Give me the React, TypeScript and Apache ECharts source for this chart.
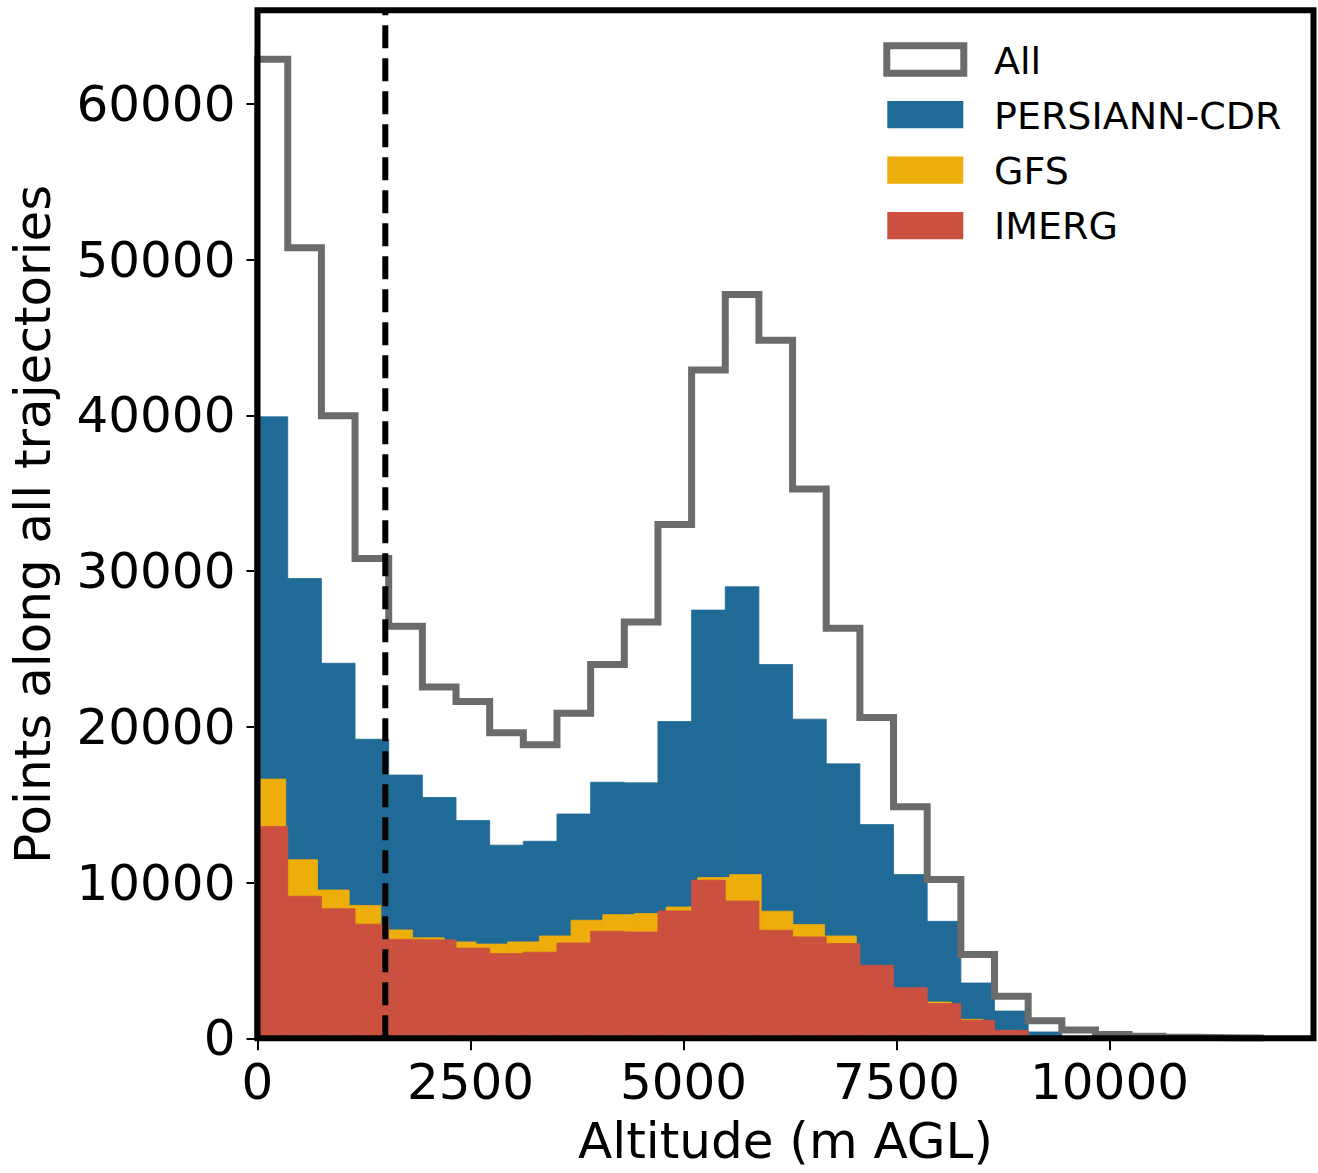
import React, { useEffect, useRef } from 'react';
import * as echarts from 'echarts';

// Histogram binning (m AGL)
const BIN_START = -40;
const BIN_WIDTH = 395;
const GFS_BIN_WIDTH = 372;
const THRESHOLD_ALT = 1500;

const allCounts = [62860, 50750, 39970, 30800, 26450, 22550, 21620, 19620, 18850, 20870, 24000, 26720, 32990, 42900, 47760, 44810, 35260, 26330, 20600, 14860, 10190, 5380, 2700, 1130, 540, 250, 130, 60, 30, 15];
const persiannCounts = [39900, 29520, 24080, 19200, 16900, 15460, 13980, 12400, 12650, 14400, 16440, 16400, 20340, 27490, 28990, 24000, 20490, 17620, 13720, 10510, 7510, 3550, 1750, 410, 90, 30, 10, 5, 0, 0];
const gfsCounts = [16640, 11470, 9520, 8530, 6960, 6450, 6190, 6050, 6190, 6570, 7580, 7940, 8010, 8430, 10320, 10510, 8160, 7300, 6570, 4600, 3100, 2330, 1220, 480, 80, 30, 15, 8, 4, 0];
const imergCounts = [13600, 9120, 8320, 7330, 6350, 6320, 5790, 5440, 5530, 6120, 6870, 6830, 8180, 10150, 8820, 6940, 6510, 6080, 4690, 3250, 2230, 1160, 510, 90, 30, 10, 5, 0, 0, 0];

const xTicks = [0, 2500, 5000, 7500, 10000];
const yTicks = [0, 10000, 20000, 30000, 40000, 50000, 60000];
const legendLabels = ['All', 'PERSIANN-CDR', 'GFS', 'IMERG'];

const X_MAX = 12394;
const Y_MAX = 66000;

const GRAY = '#6b6b6b';
const BLUE = '#1f6a96';
const YELLOW = '#edad0a';
const RED = '#cb5040';
const FONT = 'DejaVu Sans';
const FS = 50;

function toBins(counts: number[], width: number) {
  return counts.map((c, i) => [BIN_START + i * width, BIN_START + (i + 1) * width, c]);
}

function toStep(counts: number[], width: number) {
  const pts: number[][] = [[BIN_START, 0]];
  counts.forEach((c, i) => pts.push([BIN_START + i * width, c]));
  pts.push([BIN_START + counts.length * width, 0]);
  return pts;
}

function barSeries(name: string, counts: number[], width: number, color: string, z: number) {
  return {
    type: 'custom',
    name,
    xAxisIndex: 0,
    yAxisIndex: 0,
    z,
    silent: true,
    encode: { x: [0, 1], y: 2 },
    data: toBins(counts, width),
    renderItem: (params: any, api: any) => {
      const x0 = api.value(0);
      const x1 = api.value(1);
      const v = api.value(2);
      if (!(v > 0)) return null;
      const pTop = api.coord([x0, v]);
      const pBot = api.coord([x1, 0]);
      const cs = params.coordSys;
      const left = Math.max(pTop[0], cs.x);
      const right = Math.min(pBot[0], cs.x + cs.width);
      if (right <= left) return null;
      return {
        type: 'rect',
        shape: { x: left, y: pTop[1], width: right - left, height: pBot[1] - pTop[1] },
        style: { fill: color, stroke: color, lineWidth: 0.8 },
      };
    },
  };
}

export default function App() {
  const ref = useRef<HTMLDivElement>(null);

  useEffect(() => {
    if (!ref.current) return;
    const chart = echarts.init(ref.current, null, { renderer: 'svg' });

    const gridLeft = 257.5;
    const gridTop = 10.3;
    const gridWidth = 1056;
    const gridHeight = 1028;

    const legendColors = [null, BLUE, YELLOW, RED];
    const legendY = [45.8, 101, 156.5, 212];
    const legendTextY = [60.5, 115.5, 170.8, 226];
    const legendGraphics: any[] = [];
    legendLabels.forEach((label, i) => {
      if (i === 0) {
        legendGraphics.push({
          type: 'rect',
          shape: { x: 886.8, y: legendY[0], width: 77, height: 27.4 },
          style: { fill: '#fff', stroke: GRAY, lineWidth: 7 },
          z: 200,
        });
      } else {
        legendGraphics.push({
          type: 'rect',
          shape: { x: 887.3, y: legendY[i], width: 76, height: 27.3 },
          style: { fill: legendColors[i] as string },
          z: 200,
        });
      }
      legendGraphics.push({
        type: 'text',
        x: 994,
        y: legendTextY[i],
        style: {
          text: label,
          fill: '#000',
          font: `38px "${FONT}"`,
          verticalAlign: 'middle',
          align: 'left',
        },
        z: 200,
      });
    });

    const option: any = {
      animation: false,
      backgroundColor: '#fff',
      grid: {
        left: gridLeft,
        top: gridTop,
        width: gridWidth,
        height: gridHeight,
        containLabel: false,
        outerBoundsMode: 'none',
      },
      xAxis: [
        {
          type: 'value',
          min: 0,
          max: X_MAX,
          interval: 2500,
          name: 'Altitude (m AGL)',
          nameLocation: 'middle',
          nameGap: 78,
          nameMoveOverlap: false,
          nameTextStyle: { fontFamily: FONT, fontSize: FS, color: '#000', lineHeight: FS },
          axisLine: { show: false },
          axisTick: {
            show: true,
            customValues: xTicks,
            length: 12,
            lineStyle: { color: '#000', width: 2 },
          },
          axisLabel: {
            show: true,
            customValues: xTicks,
            margin: 19,
            fontFamily: FONT,
            fontSize: FS,
            lineHeight: FS,
            color: '#000',
            hideOverlap: false,
            formatter: (v: number) => String(v),
          },
          splitLine: { show: false },
        },
      ],
      yAxis: [
        {
          type: 'value',
          min: 0,
          max: Y_MAX,
          interval: 10000,
          name: 'Points along all trajectories',
          nameLocation: 'middle',
          nameGap: 200,
          nameRotate: 90,
          nameMoveOverlap: false,
          nameTextStyle: { fontFamily: FONT, fontSize: FS, color: '#000', lineHeight: FS },
          axisLine: { show: false },
          axisTick: {
            show: true,
            customValues: yTicks,
            length: 11,
            lineStyle: { color: '#000', width: 2 },
          },
          axisLabel: {
            show: true,
            customValues: yTicks,
            margin: 22,
            fontFamily: FONT,
            fontSize: FS,
            color: '#000',
            hideOverlap: false,
            formatter: (v: number) => String(v),
          },
          splitLine: { show: false },
        },
      ],
      series: [
        barSeries('PERSIANN-CDR', persiannCounts, BIN_WIDTH, BLUE, 2),
        barSeries('GFS', gfsCounts, GFS_BIN_WIDTH, YELLOW, 3),
        barSeries('IMERG', imergCounts, BIN_WIDTH, RED, 4),
        {
          type: 'line',
          name: 'All',
          z: 6,
          silent: true,
          clip: true,
          step: 'end',
          symbol: 'none',
          data: toStep(allCounts, BIN_WIDTH),
          lineStyle: { color: GRAY, width: 7, join: 'miter', cap: 'butt' },
        },
        {
          type: 'line',
          name: 'threshold',
          z: 8,
          silent: true,
          clip: true,
          symbol: 'none',
          data: [[THRESHOLD_ALT, 0], [THRESHOLD_ALT, Y_MAX]],
          lineStyle: { color: '#000', width: 6, type: [23, 10], cap: 'butt' },
        },
      ],
      graphic: [
        {
          type: 'rect',
          shape: { x: gridLeft, y: gridTop, width: gridWidth, height: gridHeight },
          style: { fill: null, stroke: '#000', lineWidth: 6 },
          z: 150,
          silent: true,
        },
        ...legendGraphics,
      ],
    };

    chart.setOption(option);
    return () => chart.dispose();
  }, []);

  return (
    <div
      ref={ref}
      style={{ position: 'absolute', left: 0, top: 0, width: 1318, height: 1173 }}
    />
  );
}
